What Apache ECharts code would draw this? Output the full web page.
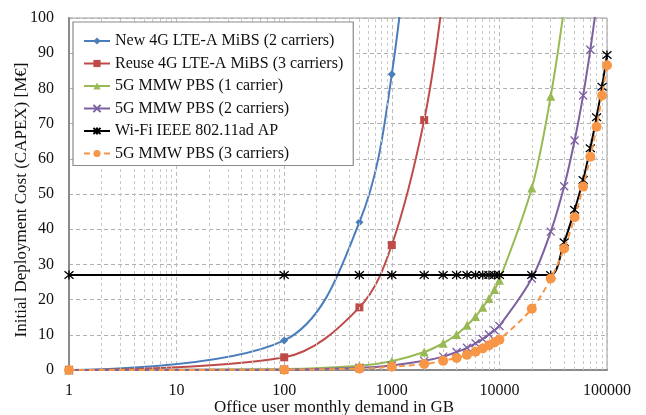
<!DOCTYPE html>
<html><head><meta charset="utf-8">
<script src="https://cdn.jsdelivr.net/npm/echarts@6/dist/echarts.min.js"></script>
<style>html,body{margin:0;padding:0;background:#fff}#c{width:646px;height:415px}</style>
</head><body><div id="c"></div>
<script>
const seriesNames = ['New 4G LTE-A MiBS (2 carriers)','Reuse 4G LTE-A MiBS (3 carriers)','5G MMW PBS (1 carrier)','5G MMW PBS (2 carriers)','Wi-Fi IEEE 802.11ad AP','5G MMW PBS (3 carriers)'];
const xNew4G = [1,100,500,1000,2000];
const yNew4G = [0,8.4,42,84,168];
const xReuse4G = [1,100,500,1000,2000,3000];
const yReuse4G = [0,3.6,17.8,35.5,71,106.5];
const xPBS1 = [1,100,500,1000,2000,3000,4000,5000,6000,7000,8000,9000,10000,20000,30000,40000];
const yPBS1 = [0,0.26,1.2,2.5,5.1,7.6,10.1,12.7,15.2,17.8,20.3,22.9,25.5,51.7,77.8,103];
const xPBS2 = [1,100,500,1000,2000,3000,4000,5000,6000,7000,8000,9000,10000,20000,30000,40000,50000,60000,70000,80000];
const yPBS2 = [0,0.13,0.65,1.3,2.6,3.8,5.1,6.3,7.6,8.8,10.1,11.3,12.5,26,39.3,52.2,65.2,78,91,104];
const xWiFi = [1,100,500,1000,2000,3000,4000,5000,6000,7000,8000,9000,10000,20000,30000,40000,50000,60000,70000,80000,90000,100000];
const yWiFi = [27,27,27,27,27,27,27,27,27,27,27,27,27,27,27,36.3,45.5,54,63,71.8,80.5,89.5];
const xPBS3 = [1,100,500,1000,2000,3000,4000,5000,6000,7000,8000,9000,10000,20000,30000,40000,50000,60000,70000,80000,90000,100000];
const yPBS3 = [0,0.1,0.4,0.9,1.7,2.6,3.4,4.3,5.2,6.1,7.0,7.8,8.6,17.4,26,34.5,43.4,52.1,60.6,69.1,78,86.6];
const minorGridX = [2,3,4,5,6,7,8,9,20,30,40,50,60,70,80,90,200,300,400,500,600,700,800,900,2000,3000,4000,5000,6000,7000,8000,9000,20000,30000,40000,50000,60000,70000,80000,90000];
const xMin = 1, xMax = 100000, yMin = 0, yMax = 100, yStep = 10;

const FONT = 'Liberation Serif';
const colors = ['#4a7ebb','#be4b48','#98b954','#7d60a0','#000000','#f79646'];
const symX = 'path://M0,0L10,10M10,0L0,10';
const symStar = 'path://M0,0L10,10M10,0L0,10M5,-1L5,11';
const symbols = ['diamond','rect','triangle',symX,symStar,'circle'];
const symSizes = [8,8,9,8,9,10];
const xsAll = [xNew4G,xReuse4G,xPBS1,xPBS2,xWiFi,xPBS3];
const ysAll = [yNew4G,yReuse4G,yPBS1,yPBS2,yWiFi,yPBS3];

const series = seriesNames.map((n,i)=>({
  name:n, type:'line', smooth:0.35,
  data: xsAll[i].map((x,j)=>[x, ysAll[i][j]]),
  symbol: symbols[i], symbolSize: symSizes[i], showSymbol:true,
  lineStyle:{color:colors[i], width:2, type: i===5?[6,4]:'solid'},
  itemStyle:{color: (i===3||i===4)? 'none' : colors[i], borderColor:colors[i], borderWidth:(i===3||i===4)?1.3:0},
  z: 3+i, clip:true
}));
series.push({
  type:'line', data:[[xMin,yMin]], silent:true, z:1, symbol:'none',
  lineStyle:{opacity:0}, legendHoverLink:false,
  markLine:{silent:true, symbol:['none','none'], label:{show:false}, animation:false,
    lineStyle:{color:'#c8c8c8', width:1, type:[3,3]},
    emphasis:{disabled:true},
    data: minorGridX.map(v=>({xAxis:v}))}
});

const chart = echarts.init(document.getElementById('c'));
chart.setOption({
  animation:false,
  color: colors,
  grid:{left:69, right:39, top:18, bottom:45, show:true, borderColor:'#9a9a9a', borderWidth:1, outerBoundsMode:'none', containLabel:false},
  xAxis:{type:'log', logBase:10, min:xMin, max:xMax,
    name:'Office user monthly demand in GB', nameLocation:'middle', nameGap:29, nameMoveOverlap:false,
    nameTextStyle:{fontFamily:FONT, fontSize:17, color:'#111', padding:[0,8,0,0]},
    axisLine:{show:true, lineStyle:{color:'#8a8a8a', width:2}},
    axisTick:{show:false},
    axisLabel:{fontFamily:FONT, fontSize:16, color:'#111', margin:13, formatter:v=>String(Math.round(v))},
    splitLine:{show:true, lineStyle:{color:'#bdbdbd', width:1, type:[4,3]}},
    minorTick:{show:false}, minorSplitLine:{show:false}
  },
  yAxis:{type:'value', min:yMin, max:yMax, interval:yStep,
    name:'Initial Deployment Cost (CAPEX) [M€]', nameLocation:'middle', nameGap:39, nameMoveOverlap:false,
    nameTextStyle:{fontFamily:FONT, fontSize:17, color:'#111', padding:[0,12,0,0]},
    axisLine:{show:true, lineStyle:{color:'#8a8a8a', width:2}},
    axisTick:{show:false},
    axisLabel:{fontFamily:FONT, fontSize:16, color:'#111', margin:15},
    splitLine:{show:true, lineStyle:{color:'#b0b0b0', width:1, type:[4,3]}}
  },
  legend:{orient:'vertical', left:73, top:22, itemGap:6.5, itemWidth:26, itemHeight:9, z:50,
    padding:[11,10,4,10], borderColor:'#8a8a8a', borderWidth:1.2, backgroundColor:'#fff',
    textStyle:{fontFamily:FONT, fontSize:16, color:'#111'},
    data: seriesNames},
  series: series
});
</script></body></html>
